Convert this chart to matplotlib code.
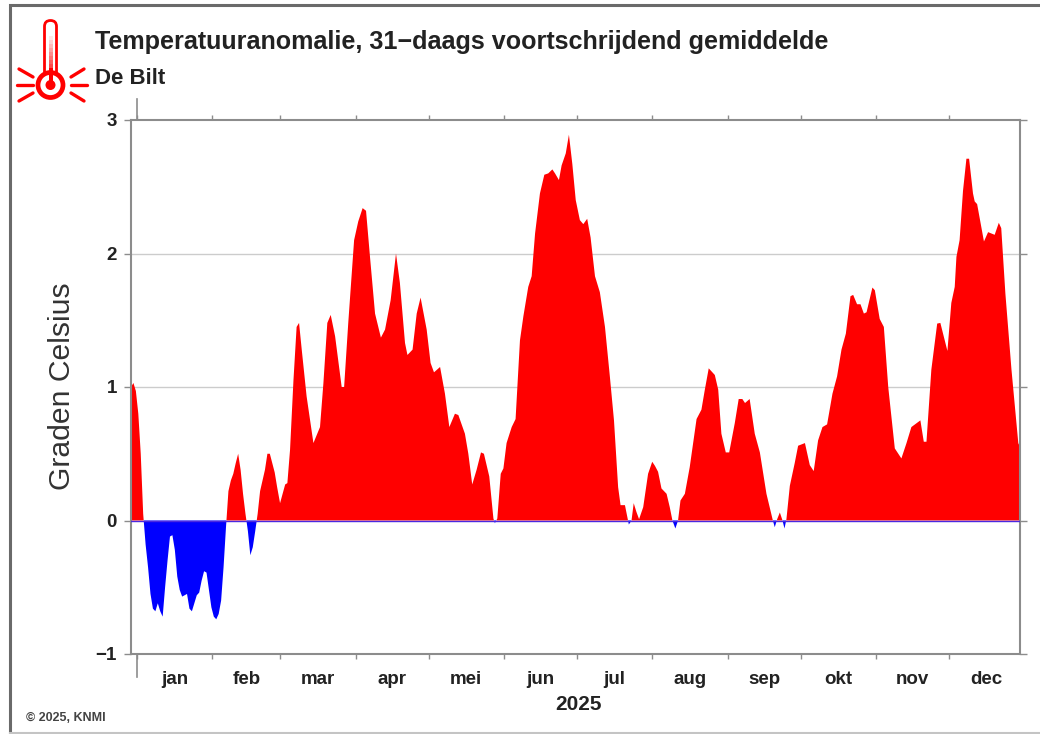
import matplotlib
matplotlib.use("Agg")
import matplotlib.pyplot as plt
from matplotlib.patches import Circle, FancyBboxPatch, Rectangle
import numpy as np

plt.rcParams['font.family'] = ['Liberation Sans', 'DejaVu Sans']

# dagen vanaf linkerrand van de as
dagen = [0, 1, 2, 3, 4, 5, 6, 7, 8, 9, 10, 11, 12, 13, 14, 15, 16, 17, 18, 19,
         20, 21, 22, 23, 24, 25, 26, 27, 28, 29, 30, 31, 32, 33, 34, 35, 36, 37, 38, 39,
         40, 41, 42, 43, 44, 45, 46, 47, 48, 49, 50, 51, 52, 53, 54, 55, 56, 57, 58, 59, 60,
         61.2, 63.3, 64.2, 65.3, 66.7, 68, 69, 70.1, 72.1, 74.9, 77.6, 79, 80.6, 82, 83.8, 86.5, 87.5, 89.2, 91.6, 93.3,
         95.1, 96.5, 98.1, 100.2, 102.6, 104.3, 106.6, 108.8, 110.4, 112.5, 113.5, 115.6, 117.3, 118.9, 121.4, 123, 124.4, 126.9, 128.9, 130.7,
         133, 134.4, 137.1, 138.5, 140.1, 141.9, 143.7, 144.9, 147.1, 148.8, 149.4, 150.4, 151.8, 152.9, 154.2, 156.3, 157.9, 159.7, 161.1, 163.1,
         164.5, 165.9, 167.9, 169.7, 171.3, 173, 174.1, 175.7, 176.8, 178.5, 179.8, 181.2, 182.6, 184.3, 185.7, 187.3, 188.7, 190.5, 192.5, 194.6,
         196.6, 198.3, 200, 201, 202.8, 204.4, 205.5, 206.4, 207.5, 208.6, 210.3, 212.3, 214, 215.1, 216.4, 217.8, 219.9, 221.2, 222.3, 223.5,
         224.6, 225.6, 227.4, 229.4, 232.2, 234.2, 235.6, 237.2, 239.7, 241.1, 242.4, 244.2, 245.6, 247.9, 249.5, 251, 252.1, 254, 256.1, 258.2,
         260.9, 263.4, 264.3, 265.3, 266.4, 267.5, 268.3, 269.1, 270.5, 272.5, 273.9, 276.7, 278.7, 280.3, 282.1, 283.9, 285.8, 288, 289.9, 291.7,
         293.5, 295.4, 296.5, 298.1, 299.5, 300.9, 302, 304.4, 305.4, 307.4, 309.1, 310.9, 313.6, 316.3, 318.4, 320.4, 324.1, 325.5, 326.6, 328.6,
         331, 332.3, 335.2, 336.8, 338.2, 338.9, 340.2, 341.6, 343, 344.1, 345.7, 346.4, 347.4, 350.2, 351.9, 354.6, 356.3, 357.3, 359, 361.5, 364.3, 365]
anomalie = [1.00, 1.03, 0.97, 0.80, 0.50, 0.05, -0.18, -0.35, -0.55, -0.66, -0.68, -0.62, -0.68, -0.72, -0.50, -0.30, -0.12, -0.11, -0.22, -0.42,
            -0.52, -0.57, -0.56, -0.55, -0.66, -0.68, -0.62, -0.56, -0.54, -0.45, -0.38, -0.39, -0.52, -0.65, -0.72, -0.74, -0.70, -0.60, -0.35, -0.05,
            0.22, 0.30, 0.35, 0.43, 0.50, 0.38, 0.20, 0.05, -0.08, -0.26, -0.20, -0.08, 0.05, 0.22, 0.30, 0.38, 0.50, 0.50, 0.43, 0.36, 0.25,
            0.13, 0.27, 0.28, 0.53, 1.05, 1.45, 1.48, 1.28, 0.93, 0.58, 0.70, 1.03, 1.48, 1.54, 1.38, 1.00, 1.00, 1.48, 2.10, 2.24,
            2.34, 2.32, 1.98, 1.55, 1.37, 1.43, 1.65, 2.00, 1.78, 1.33, 1.24, 1.28, 1.55, 1.67, 1.43, 1.18, 1.11, 1.15, 0.95, 0.70,
            0.80, 0.79, 0.65, 0.50, 0.27, 0.38, 0.51, 0.50, 0.33, 0.015, -0.02, 0.015, 0.35, 0.39, 0.58, 0.70, 0.76, 1.35, 1.53, 1.75,
            1.83, 2.15, 2.45, 2.59, 2.60, 2.63, 2.60, 2.55, 2.66, 2.75, 2.89, 2.67, 2.40, 2.25, 2.22, 2.26, 2.12, 1.83, 1.71, 1.45,
            1.08, 0.75, 0.25, 0.115, 0.115, -0.03, 0.00, 0.13, 0.065, 0.01, 0.10, 0.35, 0.44, 0.41, 0.365, 0.24, 0.20, 0.10, 0.00, -0.06,
            0.00, 0.15, 0.20, 0.40, 0.76, 0.83, 0.98, 1.14, 1.09, 0.98, 0.65, 0.51, 0.51, 0.73, 0.91, 0.91, 0.88, 0.91, 0.65, 0.51,
            0.20, 0.01, -0.05, 0.01, 0.06, 0.00, -0.06, 0.01, 0.26, 0.43, 0.56, 0.58, 0.415, 0.37, 0.60, 0.70, 0.72, 0.95, 1.08, 1.28,
            1.40, 1.68, 1.69, 1.62, 1.62, 1.55, 1.56, 1.745, 1.725, 1.51, 1.45, 1.00, 0.54, 0.465, 0.58, 0.70, 0.75, 0.59, 0.59, 1.13,
            1.475, 1.48, 1.27, 1.63, 1.75, 1.975, 2.10, 2.47, 2.71, 2.71, 2.45, 2.39, 2.37, 2.09, 2.16, 2.14, 2.23, 2.19, 1.70, 1.13, 0.58, 0.55]

maanden = ['jan', 'feb', 'mar', 'apr', 'mei', 'jun', 'jul', 'aug', 'sep', 'okt', 'nov', 'dec']
maand_start = [0, 31, 59, 90, 120, 151, 181, 212, 243, 273, 304, 334, 365]
y_ticks = [-1, 0, 1, 2, 3]

W, H = 1040, 734
GRIJS = '#8c8c8c'
TEKST = '#222222'

fig = plt.figure(figsize=(W / 100, H / 100), dpi=100)

# overlay in pixels voor kader en icoon
bg = fig.add_axes([0, 0, 1, 1], zorder=0)
bg.set_xlim(0, W)
bg.set_ylim(H, 0)
bg.axis('off')
bg.plot([9.5, 9.5, W], [H - 1, 5, 5], color='#6a6a6a', lw=2.2, solid_joinstyle='miter')
bg.plot([9.5, W], [H - 1, H - 1], color='#c4c4c4', lw=1.5)

# thermometer
rood = '#ff0000'
bg.add_patch(FancyBboxPatch((44.5, 20.5), 12, 60, boxstyle='round,pad=0,rounding_size=6',
                            fc='white', ec=rood, lw=2.0))
for yy, kleur in zip(np.arange(32, 80, 4), np.linspace(1, 0, 12)):
    bg.add_patch(Rectangle((48.5, yy), 4, 4.2, fc=(1, kleur, kleur), ec='none'))
bg.add_patch(Circle((50.5, 85), 12.5, fc='white', ec=rood, lw=3.4))
bg.add_patch(Circle((50.5, 85), 5, fc=rood, ec='none'))
bg.add_patch(Rectangle((48.5, 68), 4, 14, fc=rood, ec='none'))
for x0, y0, x1, y1 in [(19, 69, 33, 77), (17, 85, 33, 85), (19, 101, 33, 93),
                       (84, 69, 71, 77), (87, 85, 71, 85), (84, 101, 71, 93)]:
    bg.plot([x0, x1], [y0, y1], color=rood, lw=2.4, solid_capstyle='round')

ax = fig.add_axes([131 / W, 1 - 654 / H, (1020 - 131) / W, (654 - 120) / H], zorder=1)
ax.patch.set_alpha(0)
x = np.array(dagen)
y = np.array(anomalie)
ax.fill_between(x, 0, y, where=y >= 0, interpolate=True, color='#ff0000', lw=0, zorder=2)
ax.fill_between(x, 0, y, where=y <= 0, interpolate=True, color='#0000ff', lw=0, zorder=2)
ax.axhline(0, color='#4a28e0', lw=1.0, zorder=3)
for g in [1, 2]:
    ax.axhline(g, color='#cccccc', lw=1.0, zorder=1)

ax.set_xlim(0, 365)
ax.set_ylim(-1, 3)

for s in ax.spines.values():
    s.set_color(GRIJS)
    s.set_linewidth(1.5)

# maandstrepen: 1 jan ligt iets rechts van de as
schaal = 0.998
start = 2.46
streep = [start + schaal * d for d in maand_start[:-1]]
midden = [start + schaal * (a + b) / 2 for a, b in zip(maand_start[:-1], maand_start[1:])]

ax.set_xticks(streep)
ax.set_xticklabels([])
ax.tick_params(axis='x', which='major', top=True, bottom=True, length=3.5, width=1.0, color=GRIJS)
ax.set_xticks(midden, minor=True)
ax.set_xticklabels(maanden, minor=True, fontsize=13.5, fontweight='bold', color=TEKST)
ax.tick_params(axis='x', which='minor', length=0, pad=12)

ax.set_yticks(y_ticks)
ax.set_yticklabels(['\u22121', '0', '1', '2', '3'], fontsize=13.5, fontweight='bold', color=TEKST)
ax.tick_params(axis='y', left=True, right=True, length=5, width=1.0, color=GRIJS, pad=5)

# lange streep bij 1 januari
bg.plot([137, 137], [99, 120], color=GRIJS, lw=1.2)
bg.plot([137, 137], [654, 677], color=GRIJS, lw=1.2)

fig.text(95 / W, 1 - 42 / H, 'Temperatuuranomalie, 31\u2212daags voortschrijdend gemiddelde',
         fontsize=18.1, fontweight='bold', color=TEKST, va='center', ha='left')
fig.text(95 / W, 1 - 79 / H, 'De Bilt', fontsize=16, fontweight='bold', color=TEKST, va='center', ha='left')
fig.text(62 / W, 1 - 386.5 / H, 'Graden Celsius', fontsize=21.7, rotation=90, color='#333333', va='center', ha='center')
fig.text(578 / W, 1 - 705 / H, '2025', fontsize=15, fontweight='bold', color=TEKST, va='center', ha='center')
fig.text(26 / W, 1 - 718 / H, '\u00a9 2025, KNMI', fontsize=9, fontweight='bold', color='#444444', va='center', ha='left')

fig.savefig('out.png', dpi=100)
